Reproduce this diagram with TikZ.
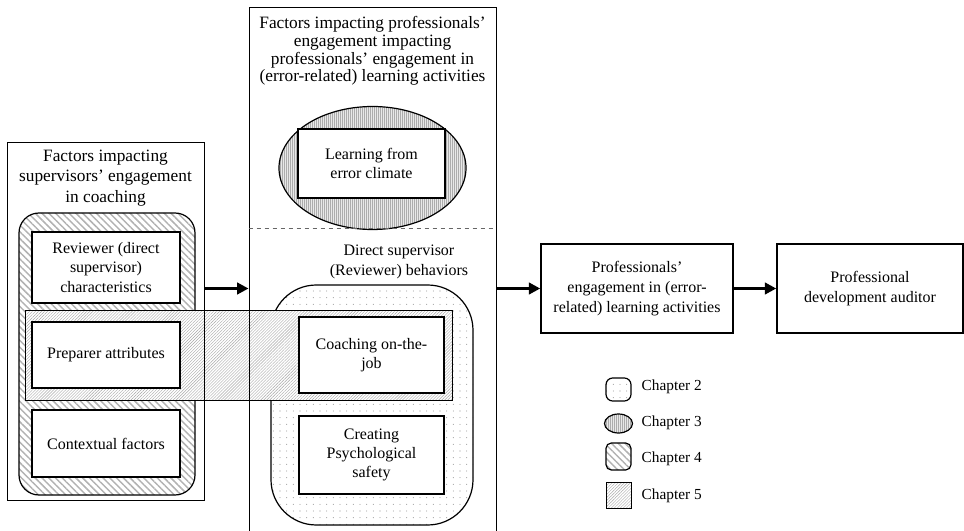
\documentclass[tikz,border=0pt]{standalone}
\usepackage{fontspec}
\setmainfont{Liberation Serif}
\usepackage{tikz}
\usetikzlibrary{arrows.meta, shapes.geometric, patterns.meta}

\begin{document}
\begin{tikzpicture}[x=0.75pt, y=-0.75pt,
  font=\fontsize{12}{14.5}\selectfont,
  frame/.style={rectangle, draw, line width=0.7pt},
  heading/.style={align=center, font=\fontsize{13}{13.3}\selectfont},
  factor/.style={rectangle, draw, fill=white, line width=1.1pt,
    minimum width=111pt, align=center},
  outcome/.style={rectangle, draw, fill=white, line width=1.1pt,
    minimum height=66.75pt, align=center, font=\fontsize{12}{15}\selectfont},
  chaptwo/.style={rectangle, draw, line width=0.9pt,
    pattern={Dots[distance=5pt, radius=0.4pt]}, pattern color=gray!85},
  chapthree/.style={ellipse, draw, line width=0.9pt,
    preaction={fill=gray!18},
    pattern={Lines[angle=90, distance=1.5pt, line width=0.4pt]}, pattern color=gray!65},
  chapfour/.style={rectangle, draw, line width=0.9pt,
    pattern={Lines[angle=-45, distance=3.6pt, line width=1.1pt]}, pattern color=gray!60},
  chapfive/.style={rectangle, draw, line width=0.6pt, preaction={fill=white},
    pattern={Lines[angle=45, distance=1.6pt, line width=0.3pt]}, pattern color=gray!70},
  link/.style={-{Triangle[length=8.5pt, width=8.5pt]}, line width=2.6pt}
]
  \useasboundingbox (0,0) rectangle (964,531);

  %% chapter areas
  \node[chapfour, rounded corners=15pt, minimum width=132pt, minimum height=211.5pt]
    (ch4) at (107,354) {};
  \node[chaptwo, rounded corners=34pt, minimum width=151.5pt, minimum height=180pt]
    (ch2) at (372,405) {};
  \node[chapthree, minimum width=140.25pt, minimum height=92.25pt]
    (ch3) at (372.5,168) {};
  \node[chapfive, minimum width=320.25pt, minimum height=67.5pt]
    (ch5) at (238.5,355) {};

  %% outer frames
  \node[frame, minimum width=147.75pt, minimum height=268.5pt] (L) at (105.5,321) {};
  \node[frame, minimum width=185.25pt, minimum height=395.25pt] (M) at (372.5,270.5) {};
  \draw[dashed, line width=0.5pt, gray!80!black] (M.west |- 0,228) -- (M.east |- 0,228);

  \node[heading, font=\fontsize{13}{15.5}\selectfont] (Lt) at (105.5,178)
    {Factors impacting\\ supervisors’ engagement\\ in coaching};
  \node[heading] (Mt) at (372.5,51)
    {Factors impacting professionals’\\ engagement impacting\\
     professionals’ engagement in\\ (error-related) learning activities};
  \node[align=center] (Ms) at (399,262)
    {Direct supervisor\\ (Reviewer) behaviors};

  %% factors
  \node[factor, minimum height=53.25pt] (R1) at (106,267.5)
    {Reviewer (direct\\ supervisor)\\ characteristics};
  \node[factor, minimum height=49.5pt] (R2) at (106,355) {Preparer attributes};
  \node[factor, minimum height=50.25pt] (R3) at (106,443.5) {Contextual factors};

  \node[factor, minimum width=110.25pt, minimum height=51.75pt] (LE) at (371.5,163.5)
    {Learning from\\ error climate};
  \node[factor, minimum width=108.75pt, minimum height=57pt] (C1) at (371.5,355)
    {Coaching on-the-\\ job};
  \node[factor, minimum width=108.75pt, minimum height=58.5pt] (C2) at (371.5,455)
    {Creating\\ Psychological\\ safety};

  %% outcomes
  \node[outcome, minimum width=144pt] (P) at (637,288.5)
    {Professionals’\\ engagement in (error-\\ related) learning activities};
  \node[outcome, minimum width=139.5pt] (D) at (870,288.5)
    {Professional\\ development auditor};

  \draw[link] (L.east |- P.west) -- (M.west |- P.west);
  \draw[link] (M.east |- P.west) -- (P.west);
  \draw[link] (P.east) -- (D.west);

  %% legend
  \node[chaptwo, rounded corners=5pt, minimum width=18.75pt, minimum height=17.25pt]
    (k2) at (618.5,389.5) {};
  \node[chapthree, minimum width=21pt, minimum height=14.25pt] (k3) at (618.5,423.5) {};
  \node[chapfour, rounded corners=4pt, minimum width=18.75pt, minimum height=20.25pt]
    (k4) at (618.5,456.5) {};
  \node[chapfive, minimum width=18.75pt, minimum height=19.5pt] (k5) at (618.5,495) {};

  \node[anchor=west, font=\fontsize{11.5}{13}\selectfont] (t2) at (637,387) {Chapter 2};
  \node[anchor=west, font=\fontsize{11.5}{13}\selectfont] (t3) at (637,423) {Chapter 3};
  \node[anchor=west, font=\fontsize{11.5}{13}\selectfont] (t4) at (637,459) {Chapter 4};
  \node[anchor=west, font=\fontsize{11.5}{13}\selectfont] (t5) at (637,496) {Chapter 5};
\end{tikzpicture}
\end{document}
